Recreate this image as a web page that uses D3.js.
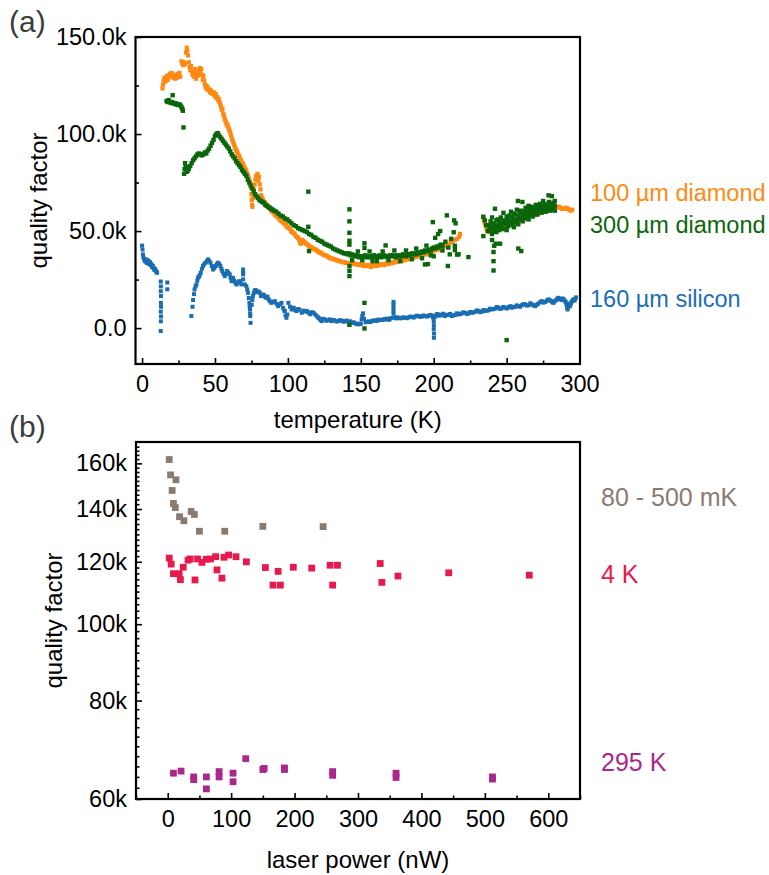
<!DOCTYPE html>
<html>
<head>
<meta charset="utf-8">
<script src="https://cdn.jsdelivr.net/npm/d3@7"></script>
<style>
  body { margin: 0; background: #fff; }
  svg { display: block; }
  text { font-family: "Liberation Sans", Arial, Helvetica, sans-serif; }
</style>
</head>
<body>
<svg id="chart" width="769" height="875"></svg>
<script>
// ---------- Panel (a): quality factor (k) vs temperature (K) ----------
const diamond100 = [
  [14,123.5],[14.3,125.5],[14.8,127.5],[15.4,129],[16,127],[16.6,128.5],[17.2,130],[17.8,128],[18.4,129.5],[19,131],[19.6,130],[20.2,131.5],[20.8,130.5],[21.4,129],[22,130.5],[22.6,128.5],[23.2,130],[23.8,129],[24.4,131],[25,130],[25.6,131.5],[26.2,129.5],
  [27,137.5],[27.6,136.5],[28.2,135.5],[28.8,137],[29.4,136],[30.2,142],[30.6,144.5],[31,143],[31.5,140.5],[32.1,137],[32.6,134.5],[33.1,133],[33.6,135],[34.1,132.5],[34.6,130.5],[35.1,131.5],[35.6,129.5],[36.1,133.5],[36.6,131],[37.1,128.5],[37.6,132],[38.1,130],[38.6,133],[39.1,131],[39.6,134],[40.1,131.5],[40.6,133.5],[41.1,130.5],[41.6,128],[42.1,130],[42.6,127.5],
  [43.1,125.5],[43.6,124],[44.1,125],[44.6,123],[45.1,124],[45.6,122.5],[46.1,123],[46.6,121.5],[47.1,122.5],[47.6,121],[48.1,121.5],[48.6,120.5],[49.1,121.5],[49.6,120],[50.1,119.5],[50.6,120.5],[51.1,118.5],[51.6,119],[52.1,117.5],[52.6,118],[53.1,116.5],[53.6,115.5],[54.1,114],[54.6,112.5],[55.1,113],[55.6,110.5],[56.1,109.5],[56.6,108],[57.1,107],[57.6,106],[58.1,104.5],[58.6,105],[59.1,103.5],[59.6,102.5],[60.1,101.5],[60.6,100.5],[61.1,99],[61.6,97.5],[62.1,96.5],[62.6,95.5],[63.1,94.5],[63.6,93.5],[64.1,92.5],[64.6,91.5],[65.1,91],[65.6,90],[66.1,89],[66.6,88.5],[67.1,87.5],[67.6,86.5],[68.1,86],[68.6,85],[69.1,84.5],[69.6,83.5],[70.1,83],[70.6,82],[71.1,81.5],[71.6,80.5],[72.1,79.5],[72.6,78.5],[73.1,77.5],[73.6,76],[74.1,74.5],[74.6,72.5],[75,69],[75.2,66],[75.4,63.5],[75.7,62.5],[76.2,67],[76.7,71.5],[77.2,74],[77.7,76.5],[78.2,78.5],[78.7,77],[79.2,79.5],[79.7,76],[80.2,78],[80.7,74],[81.2,71.5],[81.7,68.5],
  [82.3,67],[83,66],[83.8,65],[84.6,64.5],[85.4,63.5],[86.2,63],[87,62],[87.8,61.5],[88.6,60.5],[89.4,60],[90.2,59.5],[91,58.5],[91.8,58],[92.6,57.5],[93.4,57],[94.2,56],[95,55.5],[95.8,55],[96.6,54.5],[97.4,54],[98.2,53.5],[99,52.5],[99.8,52],[100.6,51.5],[101.4,51],[102.2,50],[103,49.5],[103.8,49],[104.6,48.5],[105.4,47.5],[106.2,47],[107,46.5],[107.8,45.5],[108.4,44],[109,43.5],[109.6,45.5],[110.3,45],[111,44.5],[111.8,44],[112.6,43.5],[113.4,43],[114.2,42.5],[115,42],[115.8,41.5],[116.6,41.5],[117.4,41],[118.2,40.5],[119,40.5],[119.8,40],[120.6,39.5],[121.4,39],[122.2,39],[123,38.5],[124,38],[125,37.5],[126,37.5],[127,37],[128,36.5],[129,36],[130,36],[131,35.5],[132,35.5],[133,35],[134,35],[135,34.5],[136,34.5],[137,34],[138,34],[139,34],[140,33.5],[141,33.5],[142,33.5],[143,33.5],[144,33],[145,33.5],[146,33],[147,33],[148,32.5],[149,33],[150,32.5],[151,33],[152,32],[153,32.5],[154,32],[155,32.5],[156,32],[157,31.5],[158,32.5],[159,32],[160,32.5],[161,32],[162,32.5],[163,33],[164,32.5],[165,33],[166,32.5],[167,33],[168,33.5],[169,33],[170,33.5],[171,34],[172,33.5],[173,34],[174,34.5],[175,34],[176,34.5],[177,35],[178,34.5],[179,35],[180,35],[181.5,35.5],[183,35.5],[184.5,36],[186,36.5],[187.5,36.5],[189,37],[190.5,37],[192,37.5],[193.5,38],[195,38],[196.5,38.5],[198,39],[199.5,39.5],[201,40],[202.5,40.5],[204,40.5],[205.5,41],[207,42],[208.5,42.5],[210,43],[211.5,44],[213,44.5],[214.5,45.5],[216,46],[217.5,47],[218,48.5],
  [234,57],[234.5,55.5],[235,54],[235.6,52.5],[236.3,51],[237,50],[238,49.5],[239,49.5],[240,50],[241,50],[242,50.5],[243,51],[244,51],[245,51.5],[246,51.5],[247,52],[248,52],[249,52.5],[250,53],[251,53],[252,53.5],[253,54],[254,54],[255,54.5],[256,54.5],[257,55],[258,55.5],[259,55.5],[260,56],[261,56],[262,56.5],[263,57],[264,57],[265,57.5],[266,57.5],[267,58],[268,58],[269,58.5],[270,58.5],[271,59],[272,59],[273,59.5],[274,59.5],[275,60],[276,60],[277,60.5],[278,60.5],[279,61],[280,61],[281,61.5],[282,61.5],[283,62],[284,62],[285,62.5],[286,62.5],[287,62],[288,61.5],[289,61.5],[290,61.5],[291,62],[292,61.5],[293,61],[294,60.5],[295,61]
];

const diamond300 = [
  [16.8,117],[17.5,116.5],[18.2,117.5],[19,116.5],[19.8,116],[20.5,116.5],[21,120],[21.5,116],[22.3,115.5],[23,115.8],[23.8,115.2],[24.6,115],[25.4,115.4],[26.2,114.8],[27,114],[27.6,113],[28,112],[28.4,103.4],
  [28.8,79.5],[29.2,82],[29.5,85],[30,83],[30.5,80.5],[31.2,81],[32,82],[33,83.5],[34,85],[35,86.5],[36,87.5],[37,88.5],[38,89.5],[39,90],[40,89.5],[41,89],[42,89.5],[43,90.5],[44,90],[45,91.5],[46,92.5],[47,94],[48,95.5],[49,97],[50,99],[51,100],[51.8,100.5],[52.5,99.5],[53.5,98.5],[54.5,97.5],[55.5,96.5],[56.5,95.5],[57.5,94.5],[58.5,93.5],[59.5,92.5],[60.5,91],[61.5,89.5],[62.5,88.5],[63.5,87.5],[64.5,86],[65.5,85],[66.5,84],[67.5,83],[68.5,81.5],[69.5,80.5],[70.5,79.5],[71.5,78.5],[72.5,76.5],[73.5,75],[74.5,73.5],[75.5,72],[76.5,70.5],[77.5,69],[78.5,68],[79.5,67],[80.5,66],[81.5,65.5],[82.5,65],[83.5,64.5],[84.5,63.5],[85.5,63],[86.5,62.5],[87.5,62],[88.5,61.5],[89.5,61],[90.5,60.5],[92,60],[93.5,59],[95,58],[96.5,57.5],[98,56.5],[99.5,56],[101,55],[102.5,54],[104,53],[105.5,52.5],[107,51.5],[108.5,51],[110,50.5],[111.5,50],[113,49.5],[114.5,48.5],[116,48],[117.5,47],[119,46.5],[120.5,45.5],[122,45],[123.5,44.5],[125,43.5],[126.5,43],[128,42.5],[129.5,42],[131,41],[132.5,40.5],[134,40],[135.5,39.5],[137,39],[138.5,38.5],
  [140,38.5],[141,38],[142,38.5],[143,37.5],[144,38],[145,37.5],[146,37],[147,37.5],[148,37],[149,36.5],[150,37],[151,36.5],[152,37],[153,37.5],[154,36.5],[155,37],[156,36.5],[157,37],[158,36.5],[159,37.5],[160,37],[161,36.5],[162,37],[163,37.5],[164,36.5],[165,37],[166,37.5],[167,37],[168,36.5],[169,37],[170,37.5],[171,37],[172,37.5],[173,37],[174,36.5],[175,37.5],[176,37],[177,37.5],[178,37],[179,38],[180,37.5],[181,37],[182,38],[183,37.5],[184,38],[185,38.5],[186,38],[187,38.5],[188,38],[189,39],[190,38.5],[191,39],[192,39.5],[193,39],[194,40],[195,39.5],[196,40],[197,40.5],[198,40],[199,41],[200,41.5],[201,41],[202,42],[203,41.5],[204,42.5],[205,43],[206,42.5],
  [144,35],[148,39.5],[151,35],[156,39.5],[158,34.5],[161,34.5],[165,39.5],[169,35],[173,40],[177,34.5],[181,40],[185,35.5],[188,41],[192,36],[195,42.5],[198,37.5],
  [114,70.3],[114,52.2],[114.5,39.7],[142.2,61.2],[142.2,55],[142.2,49.1],[142.2,45],[142.2,43],[142.2,32],[142.2,29.5],[142.2,26.8],[142.2,1.7],[152.5,43.7],[152.5,41.3],[152.5,13],[152.5,-0.2],[167,42.6],
  [194,32.8],[196,33],[199.4,54.6],[201,46.5],[203,48.5],[204.4,50],[200,37],[206,40],[208,44.5],[209,58.1],[209.7,32],[210,41.5],[211,38],[212,46],[213.7,49.4],[214,55.5],[214.5,42.4],[214.5,40.2],[215,54],[216,37.9],[217,38],[223.8,36.6],
  [234,57.4],[234,47.4],[235,55.5],[236,53],[237,50],
  [238,53],[238,50.5],[239,51.5],[239,55],[240,52],[240,48.5],[240,57],[240,45.4],[241,50],[241,54],[241,39.2],[241,34.5],[241,29.7],[241.5,42.4],[242,53],[242,51],[242,61.5],[242.5,43.5],[243,55.5],[243,49.5],[244,52.5],[244,56],[245,54],[245,50.5],[245.5,43.5],[246,57],[246,52],[247,53.5],[247,55],[247.8,59.4],[248,51],[249,55.5],[249,53.5],[250,54],[250,57.5],[250,50.5],[250,-6.2],[251,56],[251,52.5],[252,58],[252,54.5],[253,55],[253,60],[254,57],[254,53],[255,56],[255,59],[255,52],[256,58.5],[256,54.5],[257,55.5],[257,61],[257.7,65.5],[258,57.5],[258,53.5],[258,41],[259,59.5],[259,56],[260,57],[260,60.5],[260,39.7],[260.8,65],[261,58],[261,55],[262,60],[262,56.5],[263,58.5],[263,62],[264,57],[264,60.5],[265,59.5],[265,56],[265,63],[266,61],[266,58],[267,59],[267,62.5],[268,60.5],[268,57.5],[269,62],[269,59],[270,60],[270,63.5],[271,58.5],[271,61.5],[272,62.5],[272,60],[273,61],[273,64],[274,59.5],[274,62.5],[275,63],[275,60.5],[275,65.5],[276,61.5],[276,64],[277,60],[277,62.5],[278,63.5],[278,61],[278.7,68.4],[279,62],[279,65],[280,60.5],[280,63],[281,64],[281,62],[281,68],[282,61.5],[282,64.5],[283,63],[283,60.5],[283,65.5]
];

const silicon160 = [
  [0,42.5],[0.3,40.5],[0.6,38],[0.9,36.5],[1.4,35.5],[1.9,34.5],[2.4,35.5],[2.9,34],[3.4,33.5],[3.9,35],[4.4,34.5],[4.9,33],[5.4,34],[5.9,32.5],[6.4,33],[6.9,31.5],[7.4,32],[7.9,31],[8.4,30],[8.9,30.5],[9.4,29.5],[9.9,29],[10.3,28.5],
  [12.8,24],[12.9,21.5],[12.8,19],[13,16.5],[12.9,13],[13,11],[12.8,8.5],[13,6],[12.9,3.5],[12.8,-1.5],[17.3,23.5],[17.3,20],
  [33.8,6.2],[34.6,11],[35,14.5],[35.6,17.5],[36,19.9],[36.7,21.5],[37.3,22.5],[37.9,24.5],[38.4,26],[39,26.5],[39.5,27.2],[40.2,28.5],[41,30.5],[41.8,32],[42.6,33],[43.6,33.7],[44.5,34.5],[45.3,35.4],[46.1,34.5],[46.9,33.7],[47.8,32],[48.7,30.2],[49.6,31],[50.5,32],[51.3,33],[52.1,33.7],[52.9,33],[53.7,32],[54.4,30.5],[55,29.4],[55.8,28],[56.7,26.8],[57.5,28],[58.3,29.4],[59.2,28.5],[60.1,27.7],[60.7,26],[61.3,24.2],[61.9,25],[62.4,25.9],[63.1,24.5],[63.9,23.5],[64.7,22.5],[65.6,23.5],[66.6,24.2],[67.4,23.5],[68.1,22.5],[69.3,30.2],[69.3,28.5],[69.3,27.7],[69.3,25.1],[70.4,22.5],[71.5,21.6],[72.1,20],[72.6,18.2],[73.2,15.5],[73.6,13],[73.8,11],[74,9.6],[74.1,7.5],[74.2,6.2],[74.4,2.7],[75.2,12],[75.6,14.5],[76,16.5],[76.6,18],[77.2,19.3],[77.8,19.6],[78.4,19.1],[79.2,18.5],[80,18.8],[80.7,18.2],[81.5,16.5],[82.3,16.9],[83,17.3],[83.8,16.8],[84.5,16],[85.2,15.6],[86,16.2],[86.8,14.8],[87.6,13.8],[88.7,13],[89.8,13.5],[91,13.9],[92.2,12.5],[93.3,11.3],[94.5,12.2],[95.6,13],[96.7,10.5],[97.5,9],[97.9,8.8],[98.4,6.5],[99,5.3],[99.6,7],
  [100.3,13],[101.5,11],[102.6,9.6],[104,10.5],[105,9.2],[106,8.8],[107,9.8],[108,9.5],[109.5,7.9],[111,9],[112,8.5],[113,8.8],[114,8],[115.3,7.1],[116.4,8.2],[117.6,7.9],[118.7,7],[119.8,6.2],[120.7,5.5],[121.5,5],[122.3,4.2],[123.2,3.6],[124.3,4.8],[125.5,4.4],[126.5,3.8],[127.5,4],[128.7,4.5],[130,3.6],[131,4.2],[132,4],[133.3,3.4],[134.6,3.6],[135.8,4.1],[137,3.8],[138.1,3.3],[139.2,3.6],[140.3,3.9],[141.5,3.2],[142.6,3.5],[143.8,2.7],[145,3],[146,2.5],[147.2,2.1],[148.4,1.9],[149.3,2.3],[150,2.2],[150.6,4.5],[151,6.2],[151.5,7.6],[152.2,4.8],[153.3,3],[154.4,3.3],[155.5,3.4],[156.5,3.1],[157.5,3.6],[158.7,3.9],[160,4],[161,3.7],[162,4.4],[163.3,4.1],[164.5,4.2],[165.6,4.6],[166.7,4.4],[167.6,4.9],[168.5,4.6],[169.3,4.3],[170,4.8],[171,5.2],
  [172.4,13.5],[172.4,12],[172.4,10.5],[172.4,9],[172.4,7.5],[173.2,5.6],[174,5],[175,5.5],[175.8,5.3],[177,5],[178,5.2],[179.2,5.6],[180.4,5.3],[181.7,5.1],[183,5.6],[184,5.9],[185,5.8],[186.2,5.4],[187.5,6],[188.5,6.4],[189.6,6.2],[190.8,5.8],[192,6],[193,6.5],[194,6.2],[195.3,5.9],[196.5,6.4],[197.6,6.8],[198.7,6.5],[199.5,5.5],[200,3.6],[200.1,1.5],[200,-0.5],[200.2,-2.8],[200.1,-5],
  [200.8,5.8],[201.5,6.5],[202.3,7.2],[203,7],[204,6.4],[205,6.8],[206.3,7.4],[207.6,6.2],[208.8,6.9],[210,6.8],[211.2,7.3],[212.4,6.2],[213.5,6.6],[214.5,6.8],[215.8,7.6],[217,7],[218,7.3],[219,7.5],[220.2,8.1],[221.5,7.9],[222.8,7.3],[224,7.6],[225,8.3],[226,7.9],[227.2,8.1],[228.5,8.4],[229.6,9.1],[230.7,8.8],[231.8,8.2],[233,8.5],[234.2,9.3],[235.3,8.8],[236.4,9],[237.5,9.2],[238.6,10],[239.8,9.6],[240.9,9.8],[242,10],[243.2,10.9],[244.4,10.5],[245.5,9.9],[246.5,10.2],[247.8,10.9],[249,10.5],[250.2,10.1],[251.5,10.8],[252.6,11.3],[253.6,10.5],[254.8,10.9],[256,11],[257,11.7],[258,11.3],[259.2,11],[260.5,11.8],[261.6,12.4],[262.7,12.2],[263.8,11.6],[265,11.8],[266.2,12.8],[267.3,12.2],[268.4,11.7],[269.5,11.3],[270.5,12],[271.5,12.5],[272.8,13.3],[274,13.9],[275.2,13.1],[276.5,13.5],[277.6,14.2],[278.7,14.8],[279.6,14.3],[280.5,14],[281.3,13.4],[282,13],[283,13.8],[284,14.5],[284.8,15.2],[285.5,15.6],[286.5,15],[287.5,14.5],[288.3,15.3],[289,14.8],[289.8,14.2],[290.5,13.5],[291,12.5],[291.3,11.5],[291.5,10.5],[291.8,9.6],[292.2,11],[292.5,12.5],[293,12],[293.5,11.3],[294,12.6],[294.5,13.5],[295.2,14.2],[295.8,14.8],[296.4,14.2],[297,14.8],[297.5,15.8]
];

const tempTicks = [0, 50, 100, 150, 200, 250, 300];
const tempMinorTicks = [25, 75, 125, 175, 225, 275];
const qTicksA = [0, 50, 100, 150];
const qMinorTicksA = [25, 75, 125];

// ---------- Panel (b): quality factor (k) vs laser power (nW) ----------
const powerMK = [2.4, 4.5, 13, 7, 9, 12, 18.6, 25.5, 37, 42, 50, 90, 150, 245];
const qMK     = [161.8, 154.7, 152.5, 147.8, 142.3, 140.6, 136.9, 135.3, 139, 137.8, 131.2, 131.2, 133.1, 133];

const power4K = [2.4, 5.5, 9, 18, 20, 24.5, 32, 35.5, 43, 47, 54, 61, 67.6, 75.5, 77.7, 85.5, 88.7, 96, 107.7, 124, 154, 174, 166, 177.6, 198, 227, 256, 267.6, 260, 335, 337.6, 363, 443, 570];
const q4K     = [121.3, 119.2, 115.9, 115.9, 113.9, 118.1, 120.6, 121, 113.8, 121, 119.8, 120.9, 121, 121.8, 117.2, 114.4, 121.6, 122.4, 121.8, 120, 118, 116.7, 112.1, 112.1, 118.1, 117.8, 118.8, 118.8, 112.1, 119.4, 113, 115.1, 116.2, 115.4];

const power295K = [9, 21, 41, 41, 61, 61, 81, 81, 103, 103, 123, 150, 152, 184, 184, 260, 260, 360, 360, 512, 512];
const q295K     = [64.7, 65.1, 64, 63.5, 64, 61.8, 65, 64, 64.7, 63.1, 67.5, 65.4, 65.6, 65.7, 65.4, 65, 64.3, 64.7, 63.9, 64, 63.6];

const powerTicks = [0, 100, 200, 300, 400, 500, 600];
const powerMinorTicks = [-50, 50, 150, 250, 350, 450, 550, 650];
const qTicksB = [60, 80, 100, 120, 140, 160];

// ---------- colours ----------
const C = {
  d100: "#ff8a12", d300: "#0b660b", si: "#1a6db2",
  mk: "#8a7b72", k4: "#e61a4c", k295: "#a8288b", panel: "#3c3c3c"
};

const svg = d3.select("#chart");
const FONT_TICK = 23.5, FONT_TITLE = 24;

function styleAxis(g, fs) {
  g.select(".domain").remove();
  g.selectAll(".tick line").attr("stroke", "#000").attr("stroke-width", 1.6);
  g.selectAll(".tick text").attr("fill", "#000").attr("font-size", fs)
    .attr("font-family", '"Liberation Sans", Arial, sans-serif');
}

function squares(g, pts, x, y, size, color) {
  g.selectAll(null).data(pts).join("rect")
    .attr("x", d => x(d[0]) - size / 2)
    .attr("y", d => y(d[1]) - size / 2)
    .attr("width", size).attr("height", size)
    .attr("fill", color);
}

// ================= Panel (a) =================
const A = { left: 135.5, right: 580, top: 37, bottom: 364 };
const xA = d3.scaleLinear().domain([-4.5, 300.3]).range([A.left, A.right]);
const yA = d3.scaleLinear().domain([-18.5, 150]).range([A.bottom, A.top]);

svg.append("clipPath").attr("id", "clipA")
  .append("rect").attr("x", A.left).attr("y", A.top)
  .attr("width", A.right - A.left).attr("height", A.bottom - A.top);
const marksA = svg.append("g").attr("clip-path", "url(#clipA)");
squares(marksA.append("g"), diamond100, xA, yA, 4.2, C.d100);
squares(marksA.append("g"), silicon160, xA, yA, 4, C.si);
squares(marksA.append("g"), diamond300, xA, yA, 4.4, C.d300);

// axes (ticks point inward)
svg.append("g").attr("transform", `translate(0,${A.bottom})`)
  .call(d3.axisBottom(xA).tickValues(tempMinorTicks).tickSize(-3.5).tickFormat(""))
  .call(g => styleAxis(g, FONT_TICK));
svg.append("g").attr("transform", `translate(0,${A.bottom})`)
  .call(d3.axisBottom(xA).tickValues(tempTicks).tickSize(-6).tickPadding(11).tickFormat(d3.format("d")))
  .call(g => styleAxis(g, FONT_TICK));
svg.append("g").attr("transform", `translate(${A.left},0)`)
  .call(d3.axisLeft(yA).tickValues(qMinorTicksA).tickSize(-3.5).tickFormat(""))
  .call(g => styleAxis(g, FONT_TICK));
svg.append("g").attr("transform", `translate(${A.left},0)`)
  .call(d3.axisLeft(yA).tickValues(qTicksA).tickSize(-6).tickPadding(9)
    .tickFormat(d => d === 0 ? "0.0" : d3.format(".1f")(d) + "k"))
  .call(g => styleAxis(g, FONT_TICK));

svg.append("rect").attr("x", A.left).attr("y", A.top)
  .attr("width", A.right - A.left).attr("height", A.bottom - A.top)
  .attr("fill", "none").attr("stroke", "#000").attr("stroke-width", 2.2);

svg.append("text").attr("x", (A.left + A.right) / 2).attr("y", 428)
  .attr("text-anchor", "middle").attr("font-size", FONT_TITLE).text("temperature (K)");
svg.append("text").attr("transform", `translate(47,${(A.top + A.bottom) / 2}) rotate(-90)`)
  .attr("text-anchor", "middle").attr("font-size", FONT_TITLE).text("quality factor");
svg.append("text").attr("x", 9).attr("y", 32).attr("font-size", 30)
  .attr("fill", C.panel).text("(a)");

const labelsA = [
  { text: "100 µm diamond", y: 201, color: C.d100 },
  { text: "300 µm diamond", y: 233, color: C.d300 },
  { text: "160 µm silicon", y: 307, color: C.si }
];
svg.append("g").selectAll("text").data(labelsA).join("text")
  .attr("x", 590).attr("y", d => d.y).attr("font-size", 23.5)
  .attr("fill", d => d.color).text(d => d.text);

// ================= Panel (b) =================
const B = { left: 136, right: 580, top: 442, bottom: 799 };
const xB = d3.scaleLinear().domain([-50, 650]).range([B.left, B.right]);
const yB = d3.scaleLog().domain([60, 170.3]).range([B.bottom, B.top]);

const marksB = svg.append("g");
const zip = (xs, ys) => xs.map((v, i) => [v, ys[i]]);
squares(marksB.append("g"), zip(powerMK, qMK), xB, yB, 6.8, C.mk);
squares(marksB.append("g"), zip(power4K, q4K), xB, yB, 6.8, C.k4);
squares(marksB.append("g"), zip(power295K, q295K), xB, yB, 6.8, C.k295);

svg.append("g").attr("transform", `translate(0,${B.bottom})`)
  .call(d3.axisBottom(xB).tickValues(powerMinorTicks).tickSize(-3.5).tickFormat(""))
  .call(g => styleAxis(g, FONT_TICK));
svg.append("g").attr("transform", `translate(0,${B.bottom})`)
  .call(d3.axisBottom(xB).tickValues(powerTicks).tickSize(-6).tickPadding(11).tickFormat(d3.format("d")))
  .call(g => styleAxis(g, FONT_TICK));
const qMinorTicksB = d3.range(62, 170, 2).filter(v => !qTicksB.includes(v));
svg.append("g").attr("transform", `translate(${B.left},0)`)
  .call(d3.axisLeft(yB).tickValues(qMinorTicksB).tickSize(-3.5).tickFormat(""))
  .call(g => styleAxis(g, FONT_TICK));
svg.append("g").attr("transform", `translate(${B.left},0)`)
  .call(d3.axisLeft(yB).tickValues(qTicksB).tickSize(-6).tickPadding(9).tickFormat(d => d + "k"))
  .call(g => styleAxis(g, FONT_TICK));

svg.append("rect").attr("x", B.left).attr("y", B.top)
  .attr("width", B.right - B.left).attr("height", B.bottom - B.top)
  .attr("fill", "none").attr("stroke", "#000").attr("stroke-width", 2.2);

svg.append("text").attr("x", (B.left + B.right) / 2).attr("y", 868)
  .attr("text-anchor", "middle").attr("font-size", FONT_TITLE).text("laser power (nW)");
svg.append("text").attr("transform", `translate(62,${(B.top + B.bottom) / 2}) rotate(-90)`)
  .attr("text-anchor", "middle").attr("font-size", FONT_TITLE).text("quality factor");
svg.append("text").attr("x", 9).attr("y", 437).attr("font-size", 30)
  .attr("fill", C.panel).text("(b)");

const labelsB = [
  { text: "80 - 500 mK", y: 506, color: C.mk },
  { text: "4 K", y: 583, color: C.k4 },
  { text: "295 K", y: 771, color: C.k295 }
];
svg.append("g").selectAll("text").data(labelsB).join("text")
  .attr("x", 601).attr("y", d => d.y).attr("font-size", 25)
  .attr("fill", d => d.color).text(d => d.text);
</script>
</body>
</html>
